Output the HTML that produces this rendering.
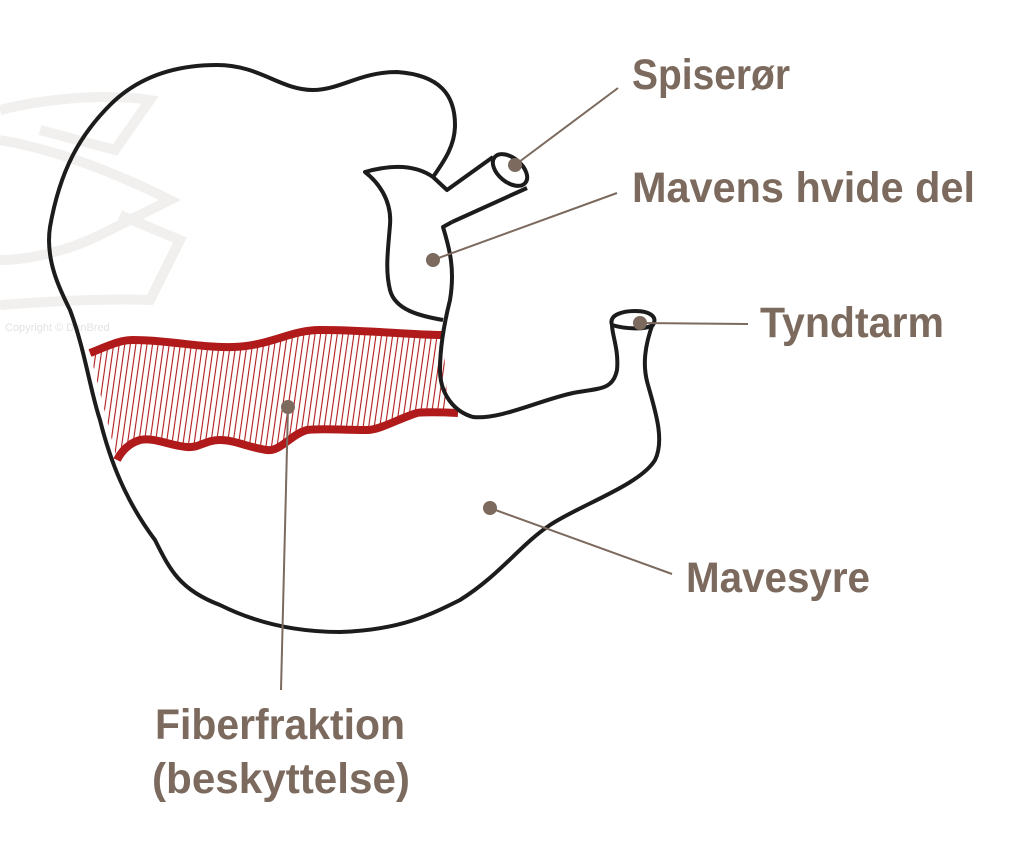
<!DOCTYPE html>
<html><head><meta charset="utf-8"><style>html,body{margin:0;padding:0;background:#fff}svg{display:block}</style></head>
<body>
<svg width="1024" height="855" viewBox="0 0 1024 855" xmlns="http://www.w3.org/2000/svg">
<defs>
<clipPath id="band"><path d="M90,353 C110,345 120,340 133,340 C170,340 200,348 233,347 C270,346 290,330 320,330 C370,330 410,335 443,335 L448,413 C430,412 420,412 417,413 C400,418 380,430 367,430 C340,430 320,428 307,430 C290,435 280,452 267,450 C250,448 235,440 220,440 C205,440 200,448 187,447 C170,446 155,437 140,440 C130,443 122,450 117,460 Z"/></clipPath>
<pattern id="hatch" width="5.5" height="20" patternUnits="userSpaceOnUse" patternTransform="rotate(8)"><line x1="1" y1="0" x2="1" y2="20" stroke="#b01a1a" stroke-width="1.1"/></pattern>
</defs>
<g fill="none" stroke="#f1f0ee" stroke-width="10">
<path d="M0,110 C60,95 120,95 150,100 L115,150 L40,130 M0,140 C60,150 120,175 170,200 L100,235 C70,250 30,260 0,260 M120,215 L180,240 L150,300 C100,298 40,302 0,305"/>
</g>
<text x="5" y="331" font-family="Liberation Sans, sans-serif" font-size="11" fill="#e4e2e0">Copyright © DanBred</text>
<rect x="80" y="320" width="380" height="150" fill="url(#hatch)" clip-path="url(#band)"/>
<path d="M90,353 C110,345 120,340 133,340 C170,340 200,348 233,347 C270,346 290,330 320,330 C370,330 410,335 443,335" fill="none" stroke="#b01a1a" stroke-width="8"/>
<path d="M117,460 C122,450 130,443 140,440 C155,437 170,446 187,447 C200,448 205,440 220,440 C235,440 250,448 267,450 C280,452 290,435 307,430 C320,428 340,430 367,430 C380,430 400,418 417,413 C420,412 440,412 458,413" fill="none" stroke="#b01a1a" stroke-width="8"/>
<g fill="none" stroke="#1c1c1c" stroke-width="4" stroke-linejoin="round">
<path d="M433,177 C445,160 455,145 455,125 C455,95 440,75 397,72 C360,72 340,90 313,90 C280,90 260,65 217,65 C170,65 135,80 110,105 C80,135 60,170 50,227 C45,260 60,290 70,310 C85,350 90,390 100,420 C110,460 125,500 155,540 C170,570 180,590 220,605 C260,625 300,632 340,632 C400,630 430,615 460,600 C500,575 520,545 550,525 C580,505 640,485 655,460 C665,440 655,410 648,385 C642,365 645,345 653,323"/>
<path d="M433,177 C420,168 400,162 365,172 C378,182 392,200 390,225 C388,250 385,270 390,290 C395,310 420,316 443,320"/>
<path d="M433,177 L447,190 L493,157"/>
<path d="M452,222 L527,188"/>
<ellipse cx="510" cy="170" rx="12" ry="20" transform="rotate(-50 510 170)"/>
<path d="M452,222 L443,227 C450,250 455,270 450,300 C445,320 440,345 440,370 C440,395 455,412 473,417 C500,420 540,400 573,393 C600,388 613,390 617,370 C619,350 612,335 612,325"/>
<path d="M612,325 C608,314 625,311 635,311 C650,311 658,317 653,325 C645,330 625,329 612,325"/>
</g>
<g stroke="#7b6a5d" stroke-width="2">
<line x1="515" y1="165" x2="618" y2="88"/>
<line x1="433" y1="260" x2="617" y2="193"/>
<line x1="640" y1="323" x2="748" y2="324"/>
<line x1="490" y1="508" x2="672" y2="574"/>
<line x1="288" y1="407" x2="281" y2="690"/>
</g>
<g fill="#7b6a5d">
<circle cx="515" cy="165" r="7"/><circle cx="433" cy="260" r="7"/><circle cx="640" cy="323" r="7"/><circle cx="490" cy="508" r="7"/><circle cx="288" cy="407" r="7"/>
</g>
<g font-family="Liberation Sans, sans-serif" font-weight="bold" font-size="43" fill="#7b6a5d">
<text x="632" y="89" textLength="158" lengthAdjust="spacingAndGlyphs">Spiserør</text>
<text x="632" y="202" textLength="343" lengthAdjust="spacingAndGlyphs">Mavens hvide del</text>
<text x="760" y="337" textLength="184" lengthAdjust="spacingAndGlyphs">Tyndtarm</text>
<text x="686" y="592" textLength="184" lengthAdjust="spacingAndGlyphs">Mavesyre</text>
<text x="155" y="739" textLength="250" lengthAdjust="spacingAndGlyphs">Fiberfraktion</text>
<text x="152" y="793" textLength="258" lengthAdjust="spacingAndGlyphs">(beskyttelse)</text>
</g>
</svg>
</body></html>
